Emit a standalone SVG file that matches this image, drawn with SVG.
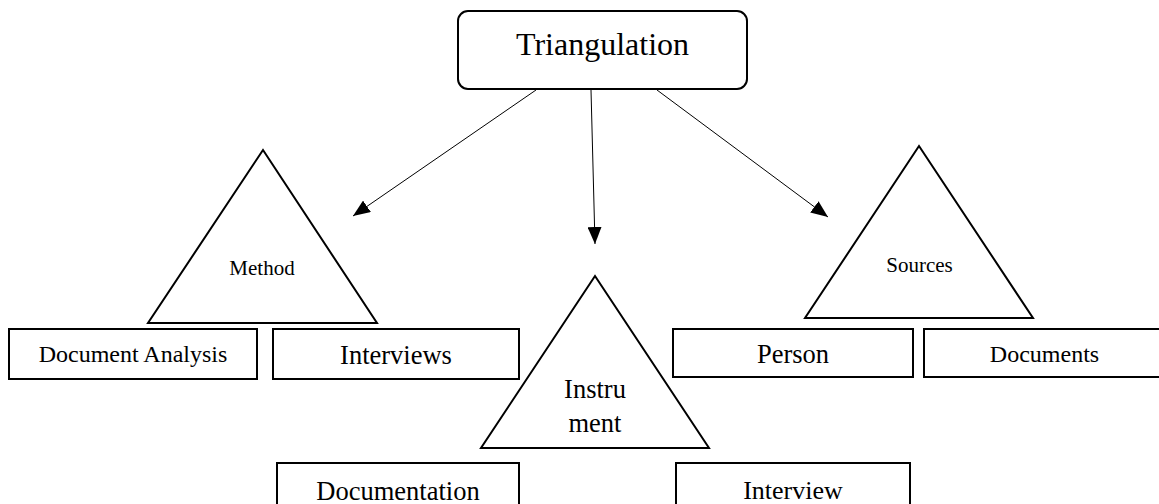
<svg xmlns="http://www.w3.org/2000/svg" width="1159" height="504" viewBox="0 0 1159 504">
<style>
  .box { fill: #fff; stroke: #000; stroke-width: 2; }
  .tri { fill: #fff; stroke: #000; stroke-width: 2; stroke-linejoin: miter; }
  .t { font-family: "Liberation Serif", "Times New Roman", serif; fill: #000; text-anchor: middle; }
  .conn { stroke: #000; stroke-width: 1; fill: none; }
</style>
<defs>
  <marker id="arr" markerUnits="userSpaceOnUse" markerWidth="18" markerHeight="14" viewBox="0 0 18 14" refX="17" refY="7" orient="auto">
    <path d="M0,0 L17,7 L0,14 Z" fill="#000"/>
  </marker>
</defs>
<rect width="1159" height="504" fill="#fff"/>
<g id="connectors">
  <line class="conn" x1="536" y1="90" x2="353" y2="216" marker-end="url(#arr)"/>
  <line class="conn" x1="591" y1="90" x2="595" y2="244" marker-end="url(#arr)"/>
  <line class="conn" x1="657" y1="90" x2="828" y2="217" marker-end="url(#arr)"/>
</g>
<g id="triangulation">
  <rect class="box" x="458" y="11" width="289" height="78" rx="10" ry="10"/>
  <text class="t" x="602.5" y="55" font-size="32">Triangulation</text>
</g>
<g id="method">
  <polygon class="tri" points="263,150 377,323 148,323"/>
  <text class="t" x="262" y="275" font-size="21">Method</text>
</g>
<g id="document-analysis">
  <rect class="box" x="9" y="329" width="248" height="50"/>
  <text class="t" x="133" y="362" font-size="24">Document Analysis</text>
</g>
<g id="interviews">
  <rect class="box" x="273" y="329" width="246" height="50"/>
  <text class="t" x="396" y="364" font-size="26.5">Interviews</text>
</g>
<g id="instrument">
  <polygon class="tri" points="595,276 709,448 481,448"/>
  <text class="t" x="595" y="398" font-size="26.5">Instru</text>
  <text class="t" x="595" y="432" font-size="26.5">ment</text>
</g>
<g id="sources">
  <polygon class="tri" points="919,146 1033,318 805,318"/>
  <text class="t" x="919.5" y="272" font-size="21">Sources</text>
</g>
<g id="person">
  <rect class="box" x="673" y="329" width="240" height="48"/>
  <text class="t" x="793" y="363" font-size="26.5">Person</text>
</g>
<g id="documents">
  <rect class="box" x="924" y="329" width="241" height="48"/>
  <text class="t" x="1044.5" y="362" font-size="24">Documents</text>
</g>
<g id="documentation">
  <rect class="box" x="277" y="463" width="242" height="50"/>
  <text class="t" x="398" y="500" font-size="26.5">Documentation</text>
</g>
<g id="interview">
  <rect class="box" x="676" y="463" width="234" height="50"/>
  <text class="t" x="793" y="499" font-size="26">Interview</text>
</g>
</svg>
